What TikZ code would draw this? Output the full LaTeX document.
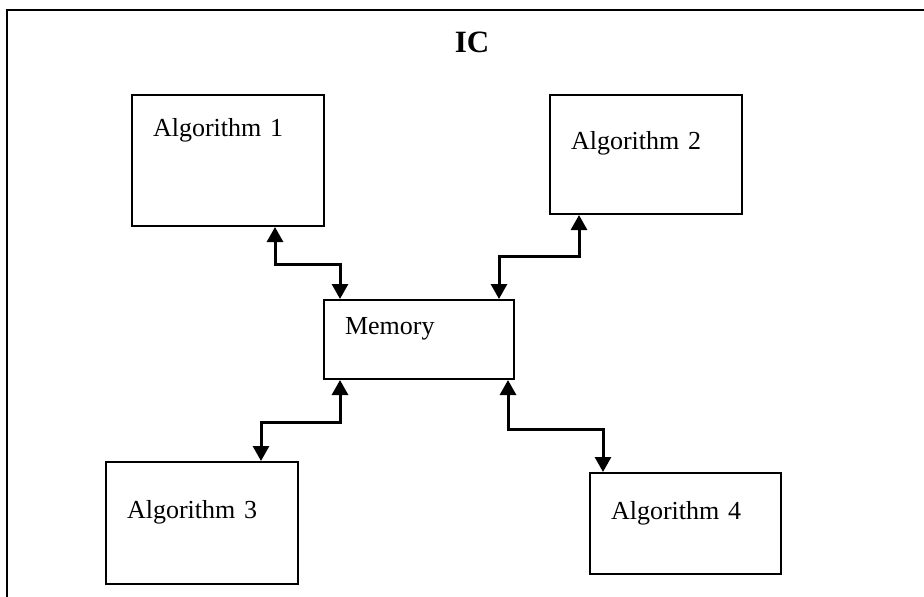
\documentclass[tikz,border=0pt]{standalone}
\usepackage{fontspec}
\setmainfont{Liberation Serif}
\usetikzlibrary{arrows.meta}
\begin{document}
\begin{tikzpicture}[x=1pt,y=-1pt,
    blockbox/.style={draw,line width=2pt,anchor=north west,align=left,
      inner xsep=21pt,inner ysep=0pt,font=\fontsize{26}{30}\selectfont},
    link/.style={line width=3pt,
      {Triangle[length=15pt,width=16pt]}-{Triangle[length=15pt,width=16pt]}}]
    \useasboundingbox (0,0) rectangle (924,597);
    \draw[line width=2.2pt] (7,10) rectangle (940,620);
    \node[anchor=base,font=\fontsize{31}{36}\selectfont\bfseries] (ic) at (472,52) {IC};
    \node[blockbox,text width=150pt,text height=41pt,text depth=90pt] (alg1) at (131,94) {Algorithm 1};
    \node[blockbox,text width=150pt,text height=54pt,text depth=65pt] (alg2) at (549,94) {Algorithm 2};
    \node[blockbox,text width=148pt,text height=34pt,text depth=45pt] (mem) at (323,299) {Memory};
    \node[blockbox,text width=150pt,text height=56pt,text depth=66pt] (alg3) at (105,461) {Algorithm 3};
    \node[blockbox,text width=149pt,text height=46pt,text depth=55pt] (alg4) at (589,472) {Algorithm 4};
    \draw[link] ([xshift=47pt]alg1.south) -- ++(0,37) -| ([xshift=-79pt]mem.north);
    \draw[link] ([xshift=-67pt]alg2.south) -- ++(0,41) -| ([xshift=80pt]mem.north);
    \draw[link] ([xshift=-79pt]mem.south) -- ++(0,42) -| ([xshift=59pt]alg3.north);
    \draw[link] ([xshift=89pt]mem.south) -- ++(0,49) -| ([xshift=-82.5pt]alg4.north);
\end{tikzpicture}
\end{document}
